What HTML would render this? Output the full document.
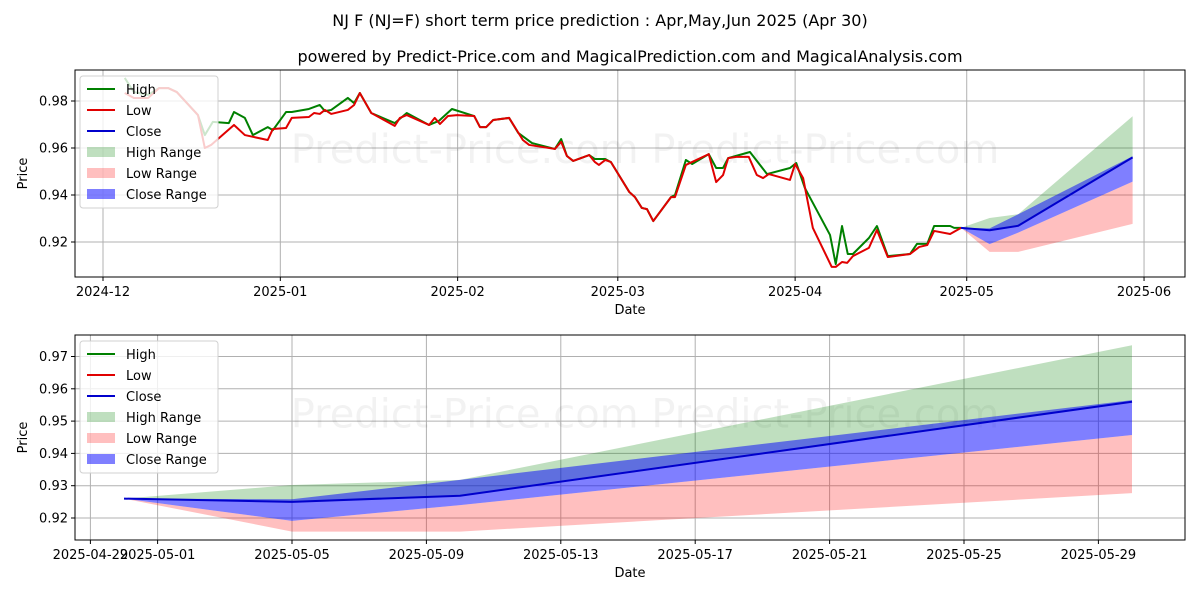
<!DOCTYPE html>
<html><head><meta charset="utf-8"><style>
body{margin:0;background:#fff}
svg{font-family:"DejaVu Sans","Liberation Sans",sans-serif}
</style></head><body>
<svg id="c" width="1200" height="600" xmlns="http://www.w3.org/2000/svg">
<rect width="1200" height="600" fill="#fff"/>
<text x="600" y="26" text-anchor="middle" font-size="16">NJ F (NJ=F) short term price prediction : Apr,May,Jun 2025 (Apr 30)</text>
<text x="630" y="62" text-anchor="middle" font-size="16">powered by Predict-Price.com and MagicalPrediction.com and MagicalAnalysis.com</text>
<g id="top"></g>
<g id="bot"></g>
</svg>
<script>
// historical data: day offsets from 2024-12-01
const highDays=[3.8,5.4,7.9,9.8,11.4,12.9,16.6,17.8,19.2,22.0,22.9,24.8,26.2,28.8,29.7,32.0,33.0,36.0,37.9,38.8,39.9,42.8,43.9,44.9,46.9,51.0,53.1,57.0,58.7,61.0,64.9,65.9,67.0,68.2,71.0,72.6,75.0,79.0,80.1,81.1,82.2,85.0,86.0,87.8,88.8,92.0,93.0,94.2,95.1,96.2,99.3,100.0,101.9,103.0,105.9,107.2,108.4,109.3,113.1,116.1,120.1,121.2,122.7,127.1,128.1,129.2,130.2,131.1,133.9,135.3,137.2,141.1,142.3,144.1,145.3,148.1,148.8,150.0];
const highVals=[.9898,.9838,.9826,.9855,.9855,.9838,.974,.9655,.9711,.9706,.9753,.9728,.9655,.9689,.9676,.9753,.9753,.9766,.9783,.9757,.9762,.9813,.9791,.9834,.9749,.9706,.9749,.9698,.9715,.9766,.9736,.9689,.9689,.9719,.9728,.9664,.9621,.9596,.9638,.9566,.9545,.957,.9553,.9553,.954,.9413,.9391,.9345,.934,.9289,.9391,.94,.9549,.9532,.9574,.9515,.9515,.9557,.9583,.9489,.9515,.9536,.943,.923,.9106,.9268,.9149,.9149,.9217,.9268,.914,.9149,.9192,.9192,.9268,.9268,.926,.926];
const lowDays=[3.8,5.4,7.9,9.8,11.4,12.9,16.6,17.8,18.9,22.9,24.8,28.8,29.7,32.0,33.0,36.0,36.9,37.9,38.8,39.9,42.8,43.9,44.9,46.9,51.0,51.9,53.1,57.0,58.0,58.9,60.3,61.9,64.9,65.9,67.0,68.2,71.0,73.4,74.5,79.0,80.1,81.1,82.2,85.0,86.0,86.7,87.8,88.8,92.0,93.0,94.2,95.1,96.2,99.3,100.0,101.9,105.9,107.2,108.4,109.3,110.7,112.9,114.3,115.4,116.4,120.1,121.0,122.4,124.1,127.4,128.1,129.2,130.1,131.1,133.9,135.3,137.2,141.1,142.7,144.1,145.3,148.1,150.0];
const lowVals=[.9834,.9813,.9813,.9855,.9855,.9838,.974,.96,.9613,.9698,.9655,.9634,.9681,.9685,.9728,.9732,.9749,.9745,.9762,.9745,.9762,.9783,.9834,.9749,.9694,.9728,.974,.9698,.9728,.9702,.9736,.974,.9736,.9689,.9689,.9719,.9728,.9634,.9613,.9596,.9626,.9566,.9545,.957,.954,.9528,.9549,.954,.9413,.9391,.9345,.934,.9289,.9391,.9391,.9528,.9574,.9455,.9485,.9557,.9562,.9562,.9485,.9472,.9489,.9464,.9532,.9472,.926,.9094,.9094,.9115,.9111,.914,.9175,.9251,.9136,.9149,.9179,.9187,.9247,.9234,.926];
// forecast (day offsets: Apr30, May5, May10, May30)
const fcDays=[150,155,160,180];
const fcClose=[.926,.925,.9269,.956];
const fcHighUp=[.926,.9302,.9318,.9735];
const fcHighLo=[.926,.925,.9269,.956];
const fcLowUp=[.926,.9191,.924,.9457];
const fcLowLo=[.926,.9158,.9158,.9277];
const fcCloseUp=[.926,.9258,.9318,.9565];
const fcCloseLo=[.926,.9191,.924,.9457];
const topYTicks=[0.92,0.94,0.96,0.98];
const topXTicks=[0,31,62,90,121,151,182];
const topXLabels=["2024-12","2025-01","2025-02","2025-03","2025-04","2025-05","2025-06"];
const botYTicks=[0.92,0.93,0.94,0.95,0.96,0.97];
const botXTicks=[149,151,155,159,163,167,171,175,179];
const botXLabels=["2025-04-29","2025-05-01","2025-05-05","2025-05-09","2025-05-13","2025-05-17","2025-05-21","2025-05-25","2025-05-29"];

const NS="http://www.w3.org/2000/svg";
function mk(parent,tag,attrs){const e=document.createElementNS(NS,tag);for(const k in attrs)e.setAttribute(k,attrs[k]);parent.appendChild(e);return e;}

function panel(g,box,sx,sy,yTicks,yFmt,xTicks,xLabels,showHist){
  const [L,T,R,B]=box;
  yTicks.forEach(v=>{const y=sy(v);
    const l=mk(g,'line',{x1:L,x2:R,y1:y,y2:y,stroke:'#b0b0b0','stroke-width':1});
    
    
    mk(g,'line',{x1:L-4,x2:L,y1:y,y2:y,stroke:'#000'});
    const t=mk(g,'text',{x:L-7,y:y+4.5,'text-anchor':'end','font-size':13});t.textContent=yFmt(v);
    
    
  });
  xTicks.forEach((d,i)=>{const x=sx(d);
    const l=mk(g,'line',{x1:x,x2:x,y1:T,y2:B,stroke:'#b0b0b0','stroke-width':1});
    
    
    mk(g,'line',{x1:x,x2:x,y1:B,y2:B+4,stroke:'#000'});
    const t=mk(g,'text',{x:x,y:B+19,'text-anchor':'middle','font-size':13});t.textContent=xLabels[i];
    
    
  });
  const wm1=mk(g,'text',{x:(L+R)/2+15,y:T+(B-T)*0.45,'text-anchor':'middle','font-size':40,fill:'#000','fill-opacity':0.05});
  wm1.textContent='Predict-Price.com   Predict-Price.com';
  
  
  const clip='clip'+L+T;
  const cp=mk(mk(g,'defs',{}),'clipPath',{id:clip});mk(cp,'rect',{x:L,y:T,width:R-L,height:B-T});
  const pg=mk(g,'g',{'clip-path':'url(#'+clip+')'});
  function band(up,lo,fill,name){
    let p=fcDays.map((d,i)=>sx(d)+','+sy(up[i])).join(' ')+' '+fcDays.slice().reverse().map((d,j)=>{const i=fcDays.length-1-j;return sx(d)+','+sy(lo[i]);}).join(' ');
    const e=mk(pg,'polygon',{points:p,fill:fill});
    
    
  }
  function line(days,vals,col,name){
    const e=mk(pg,'polyline',{points:days.map((d,i)=>sx(d)+','+sy(vals[i])).join(' '),fill:'none',stroke:col,'stroke-width':2,'stroke-linejoin':'round'});
    
    
  }
  band(fcHighUp,fcHighLo,'rgba(0,128,0,0.25)','high-range-band');
  band(fcLowUp,fcLowLo,'rgba(255,0,0,0.25)','low-range-band');
  band(fcCloseUp,fcCloseLo,'rgba(0,0,255,0.5)','close-range-band');
  if(showHist){line(highDays,highVals,'#008000','high-line');line(lowDays,lowVals,'#e00000','low-line');}
  line(fcDays,fcClose,'#0000cc','close-line');
  mk(g,'rect',{x:L,y:T,width:R-L,height:B-T,fill:'none',stroke:'#000','stroke-width':1});
  const yt=mk(g,'text',{x:0,y:0,'text-anchor':'middle','font-size':13,transform:`translate(27,${(T+B)/2}) rotate(-90)`});yt.textContent='Price';
  
  
  const xt=mk(g,'text',{x:(L+R)/2,y:B+37,'text-anchor':'middle','font-size':13});xt.textContent='Date';
  
  
  const lg=mk(g,'g',{});
  
  
  mk(lg,'rect',{x:L+5,y:T+6,width:138,height:132,rx:3,fill:'rgba(255,255,255,0.8)',stroke:'#d0d0d0'});
  const items=[['High','line','#008000'],['Low','line','#e00000'],['Close','line','#0000cc'],['High Range','patch','rgba(0,128,0,0.25)'],['Low Range','patch','rgba(255,0,0,0.25)'],['Close Range','patch','rgba(0,0,255,0.5)']];
  items.forEach((it,i)=>{const y=T+19+i*21;
    if(it[1]=='line')mk(lg,'line',{x1:L+12,x2:L+40,y1:y,y2:y,stroke:it[2],'stroke-width':2});
    else mk(lg,'rect',{x:L+12,y:y-5,width:28,height:10,fill:it[2]});
    const t=mk(lg,'text',{x:L+51,y:y+5,'font-size':13});t.textContent=it[0];
    
    
  });
}
const sxT=d=>103+d*5.72, syT=v=>101+(0.98-v)*2350;
panel(document.getElementById('top'),[75,70,1185,277],sxT,syT,topYTicks,v=>v.toFixed(2),topXTicks,topXLabels,true);
const sxB=d=>124+(d-150)*33.6, syB=v=>518-(v-0.92)*3230;
panel(document.getElementById('bot'),[75,335,1185,540],sxB,syB,botYTicks,v=>v.toFixed(2),botXTicks,botXLabels,false);
</script>
</body></html>
